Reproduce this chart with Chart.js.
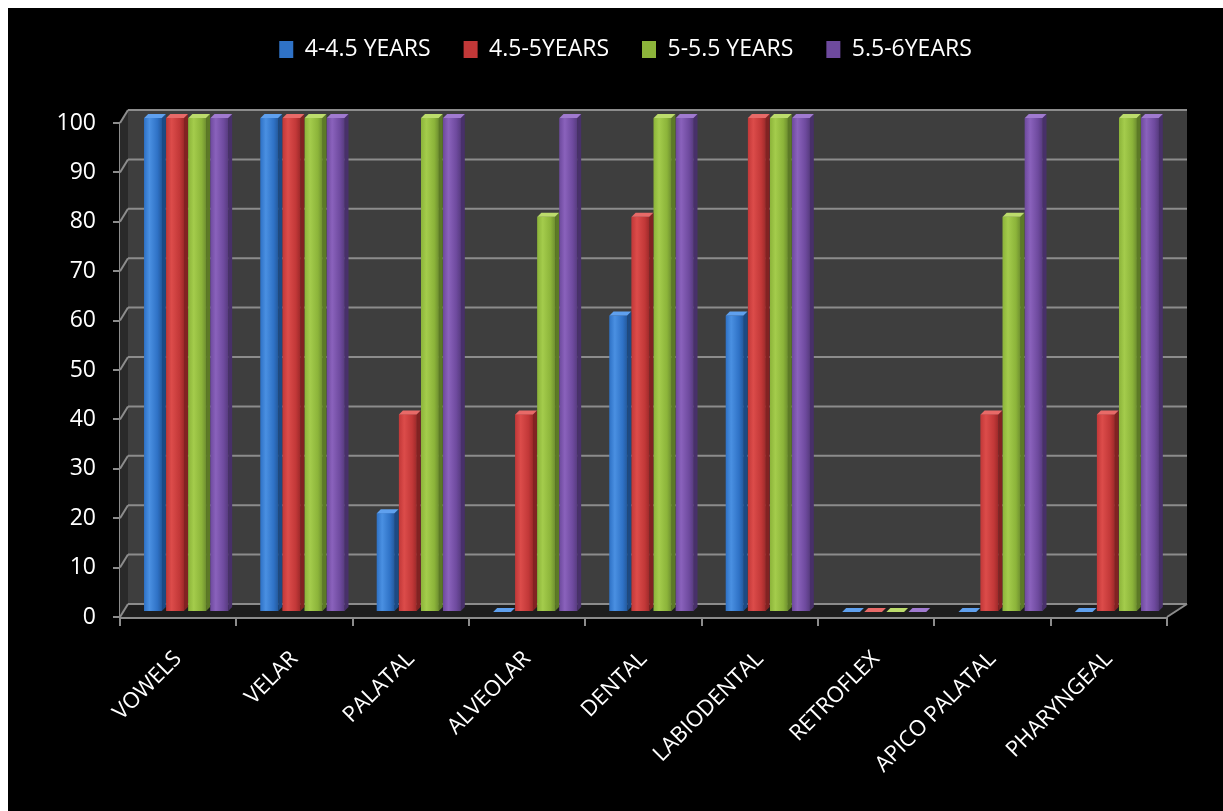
<!DOCTYPE html>
<html>
<head>
<meta charset="utf-8">
<script src="https://cdn.jsdelivr.net/npm/chart.js@4.4.1/dist/chart.umd.min.js"></script>
<style>
  html, body { margin: 0; padding: 0; background: #ffffff; }
  #wrap { position: absolute; left: 8px; top: 8px; width: 1215px; height: 803px; background: #000000; }
  canvas { display: block; }
</style>
</head>
<body>
<div id="wrap"><canvas id="c" width="1215" height="803"></canvas></div>
<script>
const categories = ["VOWELS", "VELAR", "PALATAL", "ALVEOLAR", "DENTAL", "LABIODENTAL", "RETROFLEX", "APICO PALATAL", "PHARYNGEAL"];
const seriesNames = ["4-4.5 YEARS", "4.5-5YEARS", "5-5.5 YEARS", "5.5-6YEARS"];
const age4to45 = [100, 100, 20, 0, 60, 60, 0, 0, 0];
const age45to5 = [100, 100, 40, 40, 80, 100, 0, 40, 40];
const age5to55 = [100, 100, 100, 80, 100, 100, 0, 80, 100];
const age55to6 = [100, 100, 100, 100, 100, 100, 0, 100, 100];
const yTicks = [0, 10, 20, 30, 40, 50, 60, 70, 80, 90, 100];

const palette = [
  { base: "#2f72c6", light: "#4a90e2", dark: "#245a9e", top: "#5fa0ee", side: "#1c4a84" },
  { base: "#c23838", light: "#dc4c4a", dark: "#9e2a2a", top: "#e86a68", side: "#822222" },
  { base: "#8cb43a", light: "#a4cc4c", dark: "#6f9030", top: "#bcdc6c", side: "#5c7a26" },
  { base: "#6e4a9e", light: "#8a62bc", dark: "#583c80", top: "#a07ad0", side: "#48306a" }
];
const seriesData = [age4to45, age45to5, age5to55, age55to6];

const GRID = "#8c8c8c";
const BAR_DX = 8, BAR_DY = -5;
const WALL_DXL = 8, WALL_DXR = 20, WALL_DY = -13;
const DEPTH = 4;

const scene = {
  id: "scene",
  afterInit(chart) {
    const lg = chart.legend;
    if (lg) {
      const orig = lg.fit.bind(lg);
      lg.fit = function () { orig(); this.height = 115; };
    }
  },
  afterLayout(chart) {
    const lg = chart.legend;
    if (lg) {
      lg.top -= 3;
      lg.left += 38;
      lg.right += 38;
    }
  },
  beforeDatasetsDraw(chart) {
    const { ctx, chartArea: a, scales } = chart;
    const y = scales.y;
    const y0 = y.getPixelForValue(0), y1 = y.getPixelForValue(100);
    ctx.save();
    ctx.fillStyle = "#3e3e3e";
    ctx.fillRect(a.left + WALL_DXL, y1 + WALL_DY, (a.right + WALL_DXR) - (a.left + WALL_DXL), y0 - y1);
    ctx.fillStyle = "#2a2a2a";
    ctx.beginPath();
    ctx.moveTo(a.left, y1); ctx.lineTo(a.left + WALL_DXL, y1 + WALL_DY);
    ctx.lineTo(a.left + WALL_DXL, y0 + WALL_DY); ctx.lineTo(a.left, y0); ctx.closePath(); ctx.fill();
    ctx.fillStyle = "#1e1e1e";
    ctx.beginPath();
    ctx.moveTo(a.left, y0); ctx.lineTo(a.left + WALL_DXL, y0 + WALL_DY);
    ctx.lineTo(a.right + WALL_DXR, y0 + WALL_DY); ctx.lineTo(a.right, y0); ctx.closePath(); ctx.fill();
    ctx.strokeStyle = GRID; ctx.lineWidth = 2;
    y.ticks.forEach(t => {
      const py = y.getPixelForValue(t.value);
      ctx.beginPath();
      ctx.moveTo(a.left + WALL_DXL, py + WALL_DY); ctx.lineTo(a.right + WALL_DXR, py + WALL_DY);
      ctx.stroke();
      ctx.beginPath();
      ctx.moveTo(a.left, py); ctx.lineTo(a.left + WALL_DXL, py + WALL_DY);
      ctx.stroke();
    });
    ctx.beginPath();
    ctx.moveTo(a.right, y0); ctx.lineTo(a.right + WALL_DXR, y0 + WALL_DY); ctx.stroke();
    ctx.restore();
    ctx.save();
    ctx.translate(BAR_DX, BAR_DY);
  },
  afterDatasetDraw(chart, args) {
    const ctx = chart.ctx;
    const p = palette[args.index];
    args.meta.data.forEach(el => {
      const { x, y, base, width } = el.getProps(["x", "y", "base", "width"], true);
      const top = Math.min(y, base), bot = Math.max(y, base);
      const l = x - width / 2, r = x + width / 2;
      if (bot - top > 0.5) {
        const g = ctx.createLinearGradient(l, 0, r, 0);
        g.addColorStop(0, p.base);
        g.addColorStop(0.3, p.light);
        g.addColorStop(0.75, p.base);
        g.addColorStop(1, p.dark);
        ctx.fillStyle = g;
        ctx.fillRect(l, top, width, bot - top);
      }
      ctx.fillStyle = p.side;
      ctx.beginPath();
      ctx.moveTo(r, top); ctx.lineTo(r + DEPTH, top - DEPTH);
      ctx.lineTo(r + DEPTH, bot - DEPTH); ctx.lineTo(r, bot); ctx.closePath(); ctx.fill();
      ctx.fillStyle = p.top;
      ctx.beginPath();
      ctx.moveTo(l, top); ctx.lineTo(l + DEPTH, top - DEPTH);
      ctx.lineTo(r + DEPTH, top - DEPTH); ctx.lineTo(r, top); ctx.closePath(); ctx.fill();
    });
  },
  afterDatasetsDraw(chart) {
    chart.ctx.restore();
  }
};

const datasets = seriesNames.map((name, i) => ({
  label: name,
  data: seriesData[i],
  backgroundColor: palette[i].base,
  borderWidth: 0,
  clip: false,
  categoryPercentage: 0.76,
  barPercentage: 0.8
}));

new Chart(document.getElementById("c"), {
  type: "bar",
  data: { labels: categories, datasets },
  options: {
    responsive: false,
    animation: false,
    layout: { padding: { left: 0, right: 56, top: 0, bottom: 0 } },
    plugins: {
      legend: {
        position: "top",
        labels: {
          color: "#ffffff",
          font: { family: "'Open Sans'", size: 23, lineHeight: 1 },
          boxWidth: 14,
          boxHeight: 17,
          padding: 33
        }
      },
      tooltip: { enabled: false }
    },
    scales: {
      x: {
        afterFit(s) { s.height = 194; },
        border: { display: true, color: GRID, width: 3 },
        grid: { display: true, drawOnChartArea: false, drawTicks: true, tickLength: 9, color: GRID, lineWidth: 2, offset: true },
        ticks: {
          color: "#ffffff",
          font: { family: "'Open Sans'", size: 22 },
          minRotation: 45, maxRotation: 45,
          padding: 20,
          autoSkip: false
        }
      },
      y: {
        min: 0, max: 100,
        afterFit(s) { s.width = 112; },
        afterBuildTicks(s) { s.ticks = yTicks.map(v => ({ value: v })); },
        border: { display: true, color: GRID, width: 2 },
        grid: { display: true, drawOnChartArea: false, drawTicks: true, tickLength: 7, color: GRID, lineWidth: 2 },
        ticks: {
          color: "#ffffff",
          font: { family: "'Open Sans'", size: 23 },
          padding: 17
        }
      }
    }
  },
  plugins: [scene]
});
</script>
</body>
</html>
